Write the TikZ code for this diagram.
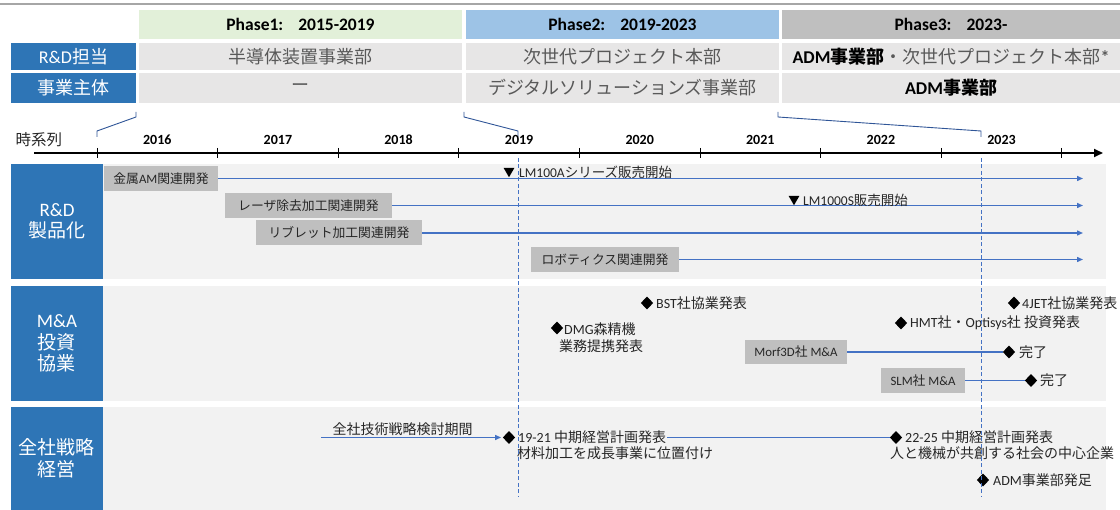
\documentclass[tikz,border=0pt]{standalone}
\usepackage{fontspec}
\setmainfont{Carlito}
\newfontfamily\jpf{Noto Sans CJK JP}
\newfontfamily\latf{Carlito}
\usetikzlibrary{arrows.meta,shapes.geometric}
\XeTeXinterchartokenstate=1
\chardef\jpclass=7
\newcount\jpcc
\jpcc="2460
\loop \XeTeXcharclass\jpcc=\jpclass \ifnum\jpcc<"9FFF \advance\jpcc by 1 \repeat
\jpcc="FF00
\loop \XeTeXcharclass\jpcc=\jpclass \ifnum\jpcc<"FFEF \advance\jpcc by 1 \repeat
\XeTeXinterchartoks 0 \jpclass = {\jpf}
\XeTeXinterchartoks 4095 \jpclass = {\jpf}
\XeTeXinterchartoks \jpclass 0 = {\latf}
\XeTeXinterchartoks \jpclass 4095 = {\latf}
\definecolor{lblue}{HTML}{2E75B6}
\definecolor{p1}{HTML}{E2F0D9}
\definecolor{p2}{HTML}{9DC3E6}
\definecolor{p3}{HTML}{BFBFBF}
\definecolor{cellg}{HTML}{E7E6E6}
\definecolor{bgg}{HTML}{F2F2F2}
\definecolor{boxg}{HTML}{BFBFBF}
\definecolor{ln}{HTML}{4472C4}
\definecolor{brk}{HTML}{2F5597}
\definecolor{txt}{HTML}{262626}
\definecolor{txg}{HTML}{595959}
\tikzset{
  rect/.style={inner sep=0, outer sep=0, anchor=center},
  ph/.style={rect, font=\fontsize{17.5}{20}\selectfont\bfseries, text=black},
  cell/.style={rect, fill=cellg, font=\fontsize{18}{22}\selectfont, text=txg},
  lab/.style={rect, fill=lblue, text=white, font=\fontsize{18}{22}\selectfont},
  sec/.style={rect, fill=lblue, text=white, font=\fontsize{19}{21.5}\selectfont, align=center},
  bg/.style={rect, fill=bgg},
  yr/.style={inner sep=0, font=\fontsize{14}{16}\selectfont\bfseries, text=black},
  pbox/.style={rect, fill=boxg, text=txt, font=\fontsize{12.8}{15}\selectfont},
  ev/.style={inner sep=0, anchor=west, text=txt, font=\fontsize{14}{17}\selectfont},
  evs/.style={ev, font=\fontsize{13.5}{16}\selectfont},
  mk/.style={diamond, fill=black, inner sep=0, minimum width=12.5pt, minimum height=13pt},
  tri/.style={regular polygon, regular polygon sides=3, shape border rotate=180, fill=black, inner sep=0, minimum size=12.5pt},
  flow/.style={draw=ln, line width=1.4pt},
  farrow/.style={flow, -{Triangle[length=6pt,width=5pt]}},
  guide/.style={draw=ln, line width=0.9pt, dash pattern=on 4pt off 2.5pt},
  brkline/.style={draw=brk, line width=0.9pt},
}
\begin{document}
\begin{tikzpicture}[x=1pt,y=-1pt]
\useasboundingbox (0,0) rectangle (1120,510);
% top rule
\coordinate (tl0) at (0,4); \coordinate (tl1) at (1120,4);
\draw[draw=black!35, line width=1.5pt] (tl0) -- (tl1);
% phase headers
\node[ph, fill=p1, minimum width=323pt, minimum height=29.5pt] (ph1) at (300.5,24.75) {Phase1:\hspace{15pt}2015-2019};
\node[ph, fill=p2, minimum width=313pt, minimum height=29.5pt] (ph2) at (622.5,24.75) {Phase2:\hspace{15pt}2019-2023};
\node[ph, fill=p3, minimum width=338pt, minimum height=29.5pt] (ph3) at (951,24.75) {Phase3:\hspace{15pt}2023-};
% row labels
\node[lab, minimum width=125pt, minimum height=27pt] (lab1) at (73.5,56.5) {R\&D担当};
\node[lab, minimum width=125pt, minimum height=30pt] (lab2) at (73.5,88) {事業主体};
% cells
\node[cell, minimum width=323pt, minimum height=27pt] (c11) at (300.5,56.5) {半導体装置事業部};
\node[cell, minimum width=313pt, minimum height=27pt] (c12) at (622.5,56.5) {次世代プロジェクト本部};
\node[cell, minimum width=338pt, minimum height=27pt] (c13) at (951,56.5) {{\bfseries\color{black}ADM事業部}・次世代プロジェクト本部{\bfseries *}};
\node[cell, minimum width=323pt, minimum height=30pt] (c21) at (300.5,88) {ー};
\node[cell, minimum width=313pt, minimum height=30pt] (c22) at (622.5,88) {デジタルソリューションズ事業部};
\node[cell, minimum width=338pt, minimum height=30pt] (c23) at (951,88) {\bfseries\color{black}ADM事業部};
% brackets
\draw[brkline] (136,112) -- (136,117) -- (97,131) -- (97,137);
\draw[brkline] (464,112) -- (464,117) -- (518,131) -- (518,137);
\draw[brkline] (778,112) -- (778,117) -- (981,131) -- (981,137);
% time axis
\node[inner sep=0, text=txt, font=\fontsize{15.5}{18}\selectfont] (tsr) at (39,140) {時系列};
\coordinate (a0) at (34,153); \coordinate (a1) at (1103,153);
\draw[line width=1.8pt, -{Triangle[length=9pt,width=8pt]}] (a0) -- (a1);
\foreach \k in {0,...,8} {\draw[line width=0.9pt] ({97+120.6*\k},148) -- ({97+120.6*\k},158);}
\foreach \k/\yy in {0/2016,1/2017,2/2018,3/2019,4/2020,5/2021,6/2022,7/2023} {\node[yr] (y\yy) at ({157.3+120.6*\k},140) {\yy};}
% sections
\node[bg, minimum width=1003pt, minimum height=115pt] (bg1) at (604.5,221.5) {};
\node[bg, minimum width=1003pt, minimum height=115pt] (bg2) at (604.5,343.5) {};
\node[bg, minimum width=1003pt, minimum height=103pt] (bg3) at (604.5,458.5) {};
\node[sec, minimum width=92pt, minimum height=115pt] (s1) at (57,221.5) {R\&D\\製品化};
\node[sec, minimum width=92pt, minimum height=115pt] (s2) at (57,343.5) {M\&A\\投資\\協業};
\node[sec, minimum width=92pt, minimum height=103pt] (s3) at (57,458.5) {全社戦略\\経営};
% section 1
\node[pbox, minimum width=114pt, minimum height=25pt] (b1) at (161,178.5) {金属AM関連開発};
\node[pbox, minimum width=167pt, minimum height=25pt] (b2) at (308.5,205.5) {レーザ除去加工関連開発};
\node[pbox, minimum width=166pt, minimum height=25pt] (b3) at (339,233) {リブレット加工関連開発};
\node[pbox, minimum width=148pt, minimum height=25pt] (b4) at (605,259.5) {ロボティクス関連開発};
\coordinate (e1) at (1083,178.5);
\coordinate (e2) at (1083,205.5);
\coordinate (e3) at (1083,233);
\coordinate (e4) at (1083,259.5);
\draw[farrow] (b1) -- (e1);
\draw[farrow] (b2) -- (e2);
\draw[farrow] (b3) -- (e3);
\draw[farrow] (b4) -- (e4);
\node[tri] (t1) at (509,171) {};
\node[evs] (l1) at (519,172) {LM100Aシリーズ販売開始};
\node[tri] (t2) at (794,199) {};
\node[evs] (l2) at (803,200) {LM1000S販売開始};
% section 2
\node[mk] (m1) at (647,303) {};
\node[ev] (m1t) at (656,303) {BST社協業発表};
\node[mk] (m2) at (557,328) {};
\node[ev] (m2t) at (564,329) {DMG森精機};
\node[ev] (m2u) at (559,346) {業務提携発表};
\node[mk] (m3) at (1014,303) {};
\node[ev] (m3t) at (1022,303) {4JET社協業発表};
\node[mk] (m4) at (901,323) {};
\node[ev] (m4t) at (910,323) {HMT社・Optisys社 投資発表};
\node[pbox, minimum width=102pt, minimum height=24pt] (b5) at (796,352) {Morf3D社 M\&A};
\node[mk] (m5) at (1009,352) {};
\node[ev] (m5t) at (1019,352) {完了};
\draw[flow] (b5) -- (m5);
\node[pbox, minimum width=84pt, minimum height=25pt] (b6) at (923,380.5) {SLM社 M\&A};
\node[mk] (m6) at (1031,380.5) {};
\node[ev] (m6t) at (1040,380.5) {完了};
\draw[flow] (b6) -- (m6);
% section 3
\node[ev, anchor=center] (g0) at (402.5,429) {全社技術戦略検討期間};
\coordinate (s0) at (321,437.5);
\node[mk] (d1) at (509,437.5) {};
\draw[farrow] (s0) -- ([xshift=-1.5pt]d1.west);
\node[ev] (d1t) at (518,437.5) {19-21 中期経営計画発表};
\node[ev] (d1u) at (517,453.5) {材料加工を成長事業に位置付け};
\node[mk] (d2) at (896,437.5) {};
\draw[flow] ([xshift=1pt]d1t.east) -- (d2.west);
\node[ev] (d2t) at (905,437.5) {22-25 中期経営計画発表};
\node[ev] (d2u) at (890,453.5) {人と機械が共創する社会の中心企業};
\node[mk] (d3) at (983,480) {};
\node[ev] (d3t) at (993,480) {ADM事業部発足};
% guides
\coordinate (g1a) at (518,158); \coordinate (g1b) at (518,497);
\coordinate (g2a) at (981,158); \coordinate (g2b) at (981,497);
\draw[guide] (g1a) -- (g1b);
\draw[guide] (g2a) -- (g2b);
\end{tikzpicture}
\end{document}
